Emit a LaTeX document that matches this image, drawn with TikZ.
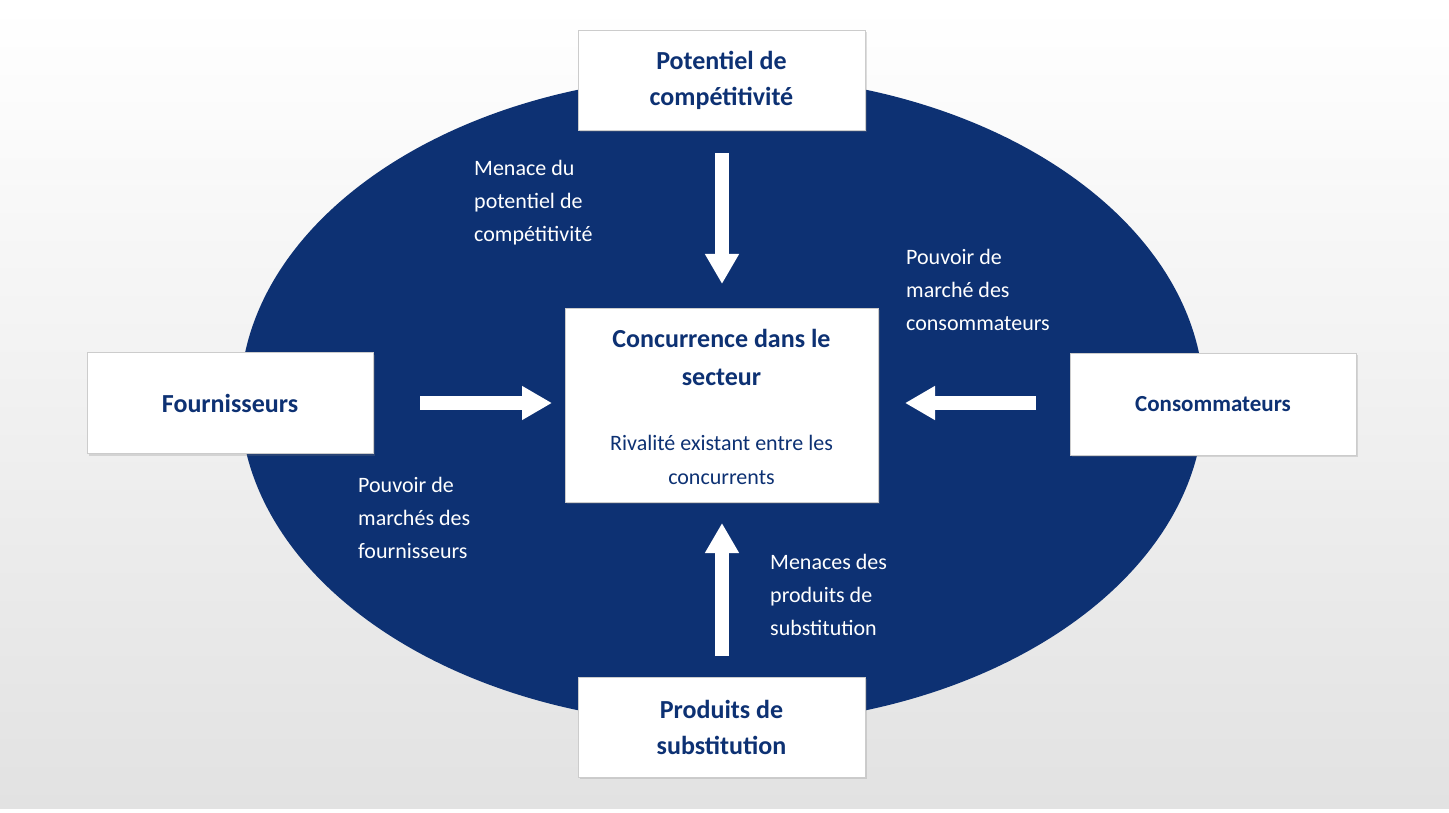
\documentclass[tikz,border=0pt]{standalone}
\usepackage{fontspec}
\setmainfont{Carlito}
\usetikzlibrary{arrows.meta,shadows}
\definecolor{navy}{HTML}{0D3173}
\definecolor{bgb}{HTML}{E2E2E2}
\begin{document}
\begin{tikzpicture}[x=1pt,y=-1pt,
  box/.style={draw=black!20,fill=white,line width=0.8pt,drop shadow={shadow xshift=2pt,shadow yshift=-2pt,opacity=0.25},text=navy,font=\fontsize{26}{36}\selectfont\bfseries,align=center,inner sep=0pt},
  lab/.style={text=white,font=\fontsize{22}{33}\selectfont,align=left,anchor=north west,inner sep=0pt},
  barrow/.style={white,line width=14pt,-{Triangle[width=32pt,length=30pt]}}]
\useasboundingbox (0,0) rectangle (1449,813);
\shade[top color=white,bottom color=bgb] (0,5) rectangle (1449,808);
\fill[navy] (722,400) ellipse [x radius=482,y radius=325];
\node[box,minimum width=287pt,minimum height=100pt] (top) at (721.5,80) {Potentiel de\\compétitivité};
\node[box,minimum width=313pt,minimum height=194pt] (ctr) at (721.5,405) {};
\node[text=navy,font=\fontsize{26}{38}\selectfont\bfseries,align=center] (ct) at (721.5,357) {Concurrence dans le\\secteur};
\node[text=navy,font=\fontsize{22}{34}\selectfont,align=center] (cs) at (721.5,460) {Rivalité existant entre les\\concurrents};
\node[box,minimum width=286pt,minimum height=101pt] (left) at (230,403) {Fournisseurs};
\node[box,minimum width=286pt,minimum height=102pt,font=\fontsize{23}{30}\selectfont\bfseries] (right) at (1213,404) {Consommateurs};
\node[box,minimum width=287pt,minimum height=100pt] (bot) at (721.5,727) {Produits de\\substitution};
\coordinate (t1) at (722,153); \coordinate (t2) at (722,284);
\coordinate (l1) at (420,403); \coordinate (l2) at (552,403);
\coordinate (r1) at (1036,403); \coordinate (r2) at (905,403);
\coordinate (b1) at (722,656); \coordinate (b2) at (722,523);
\draw[barrow] (t1) -- (t2);
\draw[barrow] (l1) -- (l2);
\draw[barrow] (r1) -- (r2);
\draw[barrow] (b1) -- (b2);
\node[lab] (la) at (474,160) {Menace du\\potentiel de\\compétitivité};
\node[lab] (lb) at (906,249) {Pouvoir de\\marché des\\consommateurs};
\node[lab] (lc) at (358,477) {Pouvoir de\\marchés des\\fournisseurs};
\node[lab] (ld) at (770,554) {Menaces des\\produits de\\substitution};
\end{tikzpicture}
\end{document}
